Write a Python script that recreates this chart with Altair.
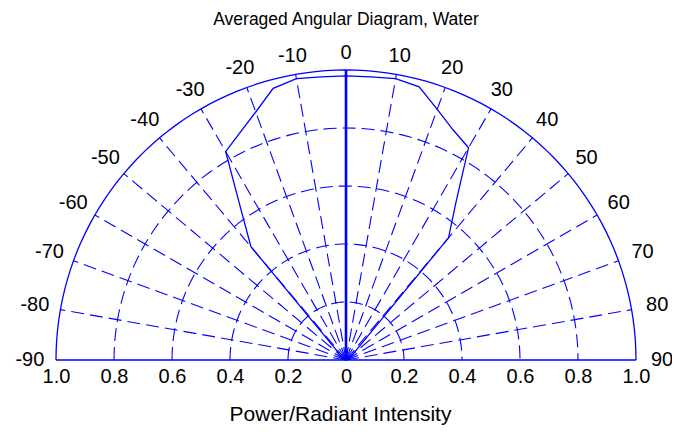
import altair as alt
import pandas as pd

# ---- data ----
angle_deg = [-90, -85, -80, -75, -70, -65, -60, -55, -50, -45, -40, -35, -30, -25, -20, -15, -10, -5,
             0, 5, 10, 15, 20, 25, 30, 35, 40, 45, 50, 55, 60, 65, 70, 75, 80, 85, 90]
intensity = [0.01, 0.01, 0.01, 0.01, 0.01, 0.01, 0.01, 0.02, 0.03, 0.04, 0.51, 0.63, 0.83, 0.865, 0.91, 0.97, 0.985, 0.98,
             0.98, 0.98, 0.985, 0.975, 0.92, 0.875, 0.845, 0.66, 0.55, 0.06, 0.03, 0.02, 0.01, 0.01, 0.01, 0.01, 0.01, 0.01, 0.01]

ring_radii = [0.2, 0.4, 0.6, 0.8]
outer_radius = [1.0]
spoke_angles = [-80, -70, -60, -50, -40, -30, -20, -10, 10, 20, 30, 40, 50, 60, 70, 80]
angle_labels = [-90, -80, -70, -60, -50, -40, -30, -20, -10, 0, 10, 20, 30, 40, 50, 60, 70, 80, 90]
radial_ticks = [-1.0, -0.8, -0.6, -0.4, -0.2, 0.0, 0.2, 0.4, 0.6, 0.8, 1.0]

title_text = "Averaged Angular Diagram, Water"
x_title = "Power/Radiant Intensity"

BLUE = "#0000ff"
FONT = "Liberation Sans"
FS = 20

# ---- tables ----
curve_df = pd.DataFrame({"a": angle_deg, "r": intensity})
arc_steps = list(range(-90, 91, 2))
rings_df = pd.DataFrame([{"r": r, "a": a} for r in ring_radii for a in arc_steps])
outer_df = pd.DataFrame([{"r": r, "a": a} for r in outer_radius for a in arc_steps])
spokes_df = pd.DataFrame({"a": spoke_angles, "r": 1.0})
zero_df = pd.DataFrame({"a": [0], "r": [1.0]})
base_df = pd.DataFrame({"x0": [radial_ticks[0]], "x1": [radial_ticks[-1]]})
labels_df = pd.DataFrame({"a": angle_labels, "txt": [str(v) for v in angle_labels]})

xs = alt.Scale(domain=[-338 / 290, 326 / 290], nice=False, zero=False)
ys = alt.Scale(domain=[-4 / 290, 322 / 290], nice=False, zero=False)
xaxis = alt.Axis(values=radial_ticks, grid=False, domain=False, ticks=False,
                 labelExpr="datum.value == 0 ? '0' : format(abs(datum.value), '.1f')",
                 labelFont=FONT, labelFontSize=FS, labelColor="#000", labelPadding=2,
                 title=x_title, titleFont=FONT, titleFontSize=21, titleFontWeight="normal",
                 titleColor="#000", titlePadding=17)

polar_x = "datum.r * sin(datum.a * PI / 180)"
polar_y = "datum.r * cos(datum.a * PI / 180)"
label_r = "(1.06 + 0.03 * abs(sin(datum.a * PI / 180)))"

def X(f):
    return alt.X(f, type="quantitative", scale=xs, axis=xaxis)

def Y(f):
    return alt.Y(f, type="quantitative", scale=ys, axis=None)

rings = alt.Chart(rings_df).transform_calculate(x=polar_x, y=polar_y).mark_line(
    color=BLUE, strokeWidth=1.1, strokeDash=[13, 6]
).encode(x=X("x"), y=Y("y"), detail="r:N", order="a:Q")

outer = alt.Chart(outer_df).transform_calculate(x=polar_x, y=polar_y).mark_line(
    color=BLUE, strokeWidth=1.3
).encode(x=X("x"), y=Y("y"), detail="r:N", order="a:Q")

spokes = alt.Chart(spokes_df).transform_calculate(
    x0="0", y0="0", x1=polar_x, y1=polar_y
).mark_rule(color=BLUE, strokeWidth=1.1, strokeDash=[13, 6]).encode(
    x=X("x0"), y=Y("y0"), x2="x1:Q", y2="y1:Q")

zero_spoke = alt.Chart(zero_df).transform_calculate(
    x0="0", y0="0", x1=polar_x, y1=polar_y
).mark_rule(color=BLUE, strokeWidth=2.6).encode(
    x=X("x0"), y=Y("y0"), x2="x1:Q", y2="y1:Q")

baseline = alt.Chart(base_df).transform_calculate(y0="0").mark_rule(
    color=BLUE, strokeWidth=1.6
).encode(x=X("x0"), x2="x1:Q", y=Y("y0"))

curve = alt.Chart(curve_df).transform_calculate(x=polar_x, y=polar_y).mark_line(
    color=BLUE, strokeWidth=1.3
).encode(x=X("x"), y=Y("y"), order="a:Q")

labels = alt.Chart(labels_df).transform_calculate(
    x=f"{label_r} * sin(datum.a * PI / 180)", y=f"{label_r} * cos(datum.a * PI / 180)"
).mark_text(font=FONT, fontSize=FS, color="#000", align="center", baseline="middle").encode(
    x=X("x"), y=Y("y"), text="txt:N")

chart = alt.layer(rings, outer, spokes, zero_spoke, baseline, curve, labels).properties(
    width=664, height=326,
    autosize=alt.AutoSizeParams(type="none"),
    padding={"left": 0, "right": 0, "top": 30, "bottom": 62},
    title=alt.TitleParams(title_text, font=FONT, fontSize=17.5, fontWeight="normal",
                          color="#000", anchor="middle", offset=10, dx=6),
    background="white",
).configure_view(stroke=None)

chart.save("out.html", embed_options={"renderer": "svg", "actions": False})
